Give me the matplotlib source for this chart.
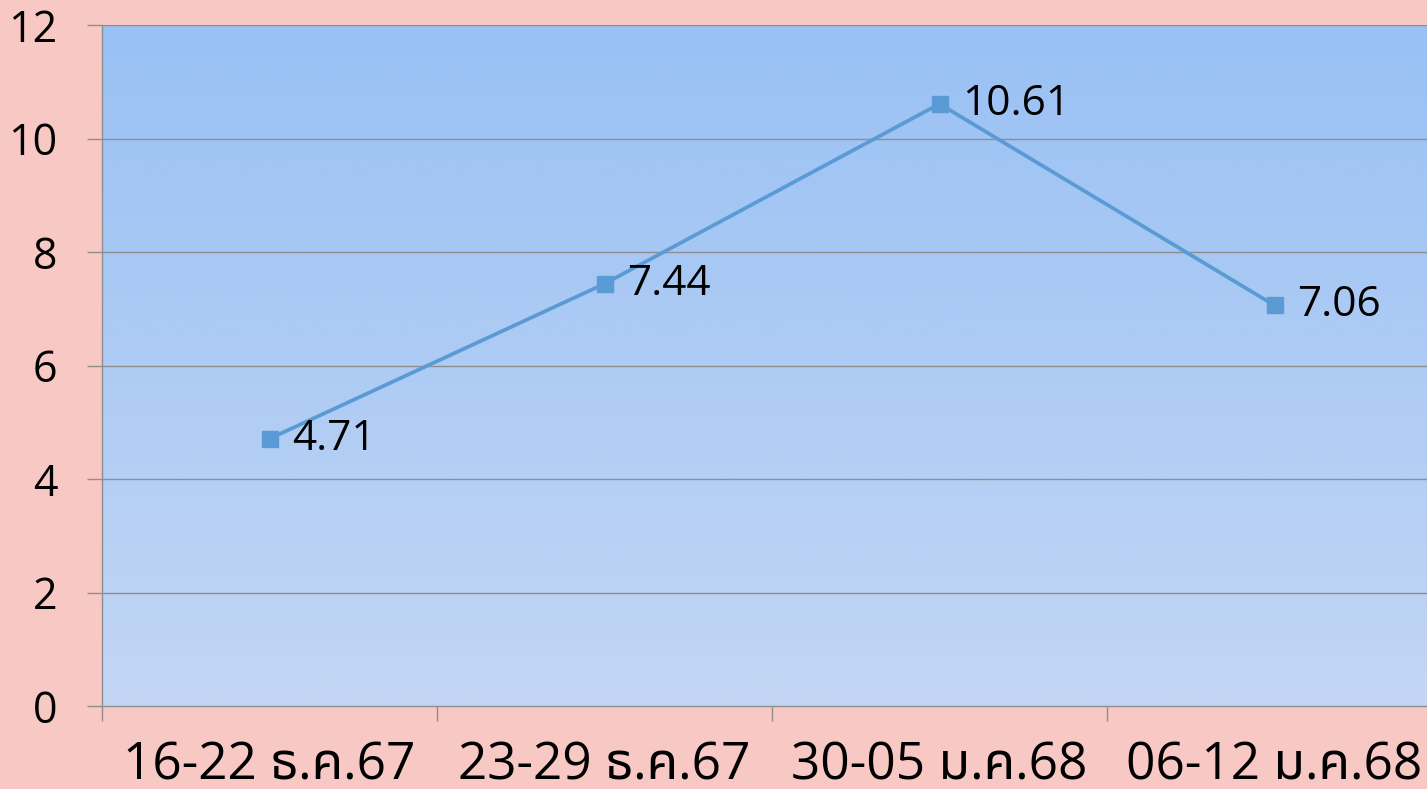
import numpy as np
import matplotlib
matplotlib.use("Agg")
import matplotlib.pyplot as plt
from matplotlib.colors import LinearSegmentedColormap

weeks = ["16-22 ธ.ค.67", "23-29 ธ.ค.67", "30-05 ม.ค.68", "06-12 ม.ค.68"]
rates = [4.71, 7.44, 10.61, 7.06]
y_ticks = [0, 2, 4, 6, 8, 10, 12]

plt.rcParams['font.family'] = ['Open Sans', 'Noto Sans Thai', 'Noto Sans', 'DejaVu Sans']

fig = plt.figure(figsize=(14.27, 7.89), dpi=100)
fig.patch.set_facecolor('#F8C9C4')

W, H = 1427, 789
ax = fig.add_axes([102 / W, 1 - 706 / H, 1340 / W, 681 / H])
ax.set_facecolor('none')

# background gradient, light at the bottom and stronger blue at the top
grad = LinearSegmentedColormap.from_list('bg', ['#C3D6F4', '#99C1F4'])
ax.imshow(np.linspace(0, 1, 256).reshape(-1, 1), cmap=grad, aspect='auto',
          extent=[0, 1, 0, 1], origin='lower', transform=ax.transAxes, zorder=0)

x = np.arange(len(weeks))
ax.set_xlim(-0.5, len(weeks) - 0.5)
ax.set_ylim(0, 12)

for yv in y_ticks[1:]:
    ax.axhline(yv, color='#8E8E8E', lw=1, zorder=1)

ax.plot(x, rates, color='#5B9BD5', lw=2.7, marker='s', markersize=11.5, zorder=3)
for xi, v in zip(x, rates):
    ax.annotate(f"{v:.2f}", (xi, v), xytext=(16, 0), textcoords='offset points',
                va='center', ha='left', fontsize=30.5, color='black', zorder=4)

ax.set_yticks(y_ticks)
ax.set_yticklabels([str(t) for t in y_ticks], fontsize=31)
ax.set_xticks(np.arange(len(weeks) + 1) - 0.5, minor=False)
ax.set_xticklabels([])
ax.set_xticks(x, minor=True)
ax.set_xticklabels(weeks, minor=True, fontsize=37)
ax.tick_params(axis='x', which='minor', length=0, pad=25)
ax.tick_params(axis='x', which='major', length=11, color='#8E8E8E', width=1)
ax.tick_params(axis='y', length=11, color='#8E8E8E', width=1, pad=21)

for s in ['top', 'right']:
    ax.spines[s].set_visible(False)
for s in ['left', 'bottom']:
    ax.spines[s].set_color('#8E8E8E')
    ax.spines[s].set_linewidth(1)

fig.savefig('out.png', dpi=100, facecolor=fig.get_facecolor())
